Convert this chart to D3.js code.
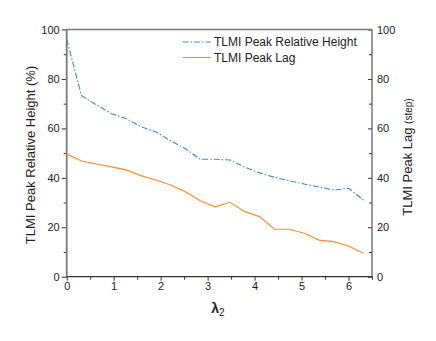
<!DOCTYPE html>
<html><head><meta charset="utf-8">
<script src="https://cdn.jsdelivr.net/npm/d3@7/dist/d3.min.js"></script>
<style>body{margin:0;background:#fff}svg{display:block}text{font-family:"Liberation Sans",Arial,sans-serif;fill:#222}</style>
</head><body>
<svg id="c" width="436" height="341"></svg>
<script>
const lambda2 = [0,0.316,0.632,0.948,1.264,1.58,1.896,2.212,2.528,2.844,3.16,3.476,3.792,4.108,4.424,4.74,5.056,5.372,5.688,6.004,6.32];
const relHeight = [96,73.2,69.5,66,64,60.7,58.6,55,51.8,47.5,47.5,47.2,44.3,42,40.2,38.8,37.5,36.3,35,35.8,31];
const peakLag = [49.6,46.8,45.6,44.4,43.2,40.9,39.1,37.1,34.4,30.7,28.3,30.1,26.3,24.3,19.2,19.2,17.6,14.8,14.2,12.4,9.5];
const xTicks = [0,1,2,3,4,5,6];
const yTicks = [0,20,40,60,80,100];
const legendLabels = ["TLMI Peak Relative Height","TLMI Peak Lag"];

const svg = d3.select("#c");
const L=66.7, R=372, T=29.5, B=276.7;
const x = d3.scaleLinear().domain([0,6.5]).range([L,R]);
const yL = d3.scaleLinear().domain([0,100]).range([B,T]);
const yR = d3.scaleLinear().domain([0,100]).range([B,T]);

// bottom axis
const gx = svg.append("g").attr("transform",`translate(0,${B})`);
gx.call(d3.axisBottom(x).tickValues(d3.range(0,6.6,0.5)).tickSize(3).tickFormat(d=>xTicks.includes(d)?d3.format("d")(d):""));
gx.selectAll(".tick line").attr("y2",d=>Number.isInteger(d)?4:3);
// left axis
const gy = svg.append("g").attr("transform",`translate(${L},0)`);
gy.call(d3.axisLeft(yL).tickValues(d3.range(0,101,10)).tickSize(4).tickFormat(d=>yTicks.includes(d)?d:""));
gy.selectAll(".tick line").attr("x2",d=>d%20===0?-5:-3);
// right axis (inward ticks)
const gr = svg.append("g").attr("transform",`translate(${R},0)`);
gr.call(d3.axisRight(yR).tickValues(d3.range(0,101,10)).tickSize(0).tickPadding(5).tickFormat(d=>yTicks.includes(d)?d:""));
gr.selectAll(".tick line").attr("x2",d=>d%20===0?-4:-3);
[gx,gy,gr].forEach(g=>{
  g.selectAll("text").style("font-size","11px").attr("fill","#222");
  g.selectAll(".tick line").attr("stroke","#333");
  g.select(".domain").remove();
});
// frame lines
svg.append("line").attr("x1",L-1).attr("x2",R).attr("y1",T).attr("y2",T).attr("stroke","#7a7a7a").attr("stroke-width",1.6);
svg.append("line").attr("x1",L).attr("x2",L).attr("y1",T-0.5).attr("y2",B+0.5).attr("stroke","#7a7a7a").attr("stroke-width",1.8);
svg.append("line").attr("x1",L).attr("x2",R+0.5).attr("y1",B).attr("y2",B).attr("stroke","#333").attr("stroke-width",1.2);
svg.append("line").attr("x1",R).attr("x2",R).attr("y1",T).attr("y2",B).attr("stroke","#555").attr("stroke-width",1.2);

const blue="#3d8ac8", orange="#ff8c28";
const lineL = d3.line().x((d,i)=>x(lambda2[i])).y(d=>yL(d));
const lineR = d3.line().x((d,i)=>x(lambda2[i])).y(d=>yR(d));
svg.append("path").attr("d",lineL(relHeight)).attr("fill","none").attr("stroke",blue).attr("stroke-width",1.1).attr("stroke-dasharray","6,2,1.5,2");
svg.append("path").attr("d",lineR(peakLag)).attr("fill","none").attr("stroke",orange).attr("stroke-width",1.2);

// legend
const leg = svg.append("g");
[[blue,"6,2,1.5,2"],[orange,null]].forEach((s,i)=>{
  const yy = 42 + i*15.5;
  leg.append("line").attr("x1",182.5).attr("x2",211).attr("y1",yy).attr("y2",yy).attr("stroke",s[0]).attr("stroke-width",1.1).attr("stroke-dasharray",s[1]);
  leg.append("text").attr("x",214).attr("y",yy+4.3).style("font-size","12px").text(legendLabels[i]);
});

// axis titles
svg.append("text").attr("transform",`translate(35,155) rotate(-90)`).attr("text-anchor","middle").style("font-size","13px").text("TLMI Peak Relative Height (%)");
const rt = svg.append("text").attr("transform",`translate(412,157) rotate(-90)`).attr("text-anchor","middle").style("font-size","13px");
rt.append("tspan").text("TLMI Peak Lag ");
rt.append("tspan").style("font-size","10px").text("(step)");
const xt = svg.append("text").attr("x",218).attr("y",313).attr("text-anchor","middle").style("font-size","14px").style("font-weight","bold");
xt.append("tspan").text("λ");
xt.append("tspan").attr("dy",3).style("font-size","10px").style("font-weight","normal").text("2");
</script>
</body></html>
